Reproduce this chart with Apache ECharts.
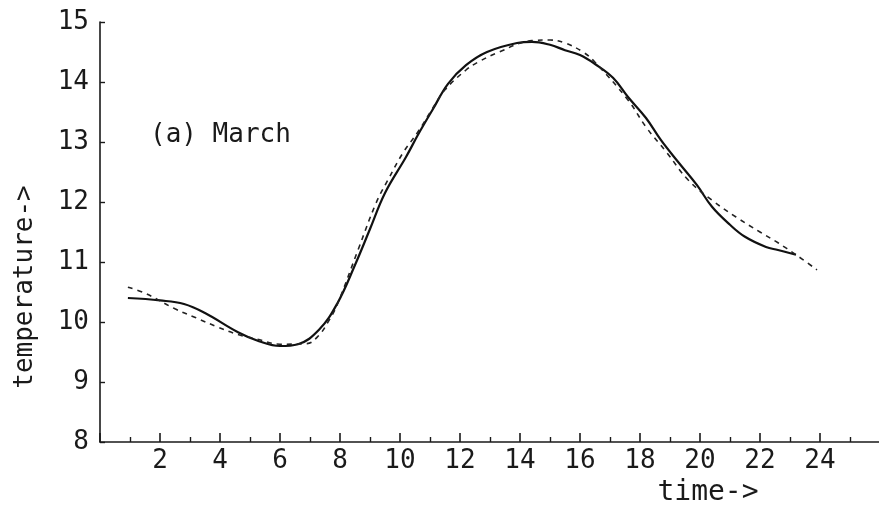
<!DOCTYPE html>
<html>

<head>
    <meta charset="utf-8">
    <title>March temperature</title>
    <style>
        html, body { margin: 0; padding: 0; background: #fff; }
    </style>
</head>

<body>
    <div id="main" style="width: 879px;height:506px;"></div>
    <script src="https://cdn.jsdelivr.net/npm/echarts@6/dist/echarts.min.js" charset="utf-8"></script>
    <script>
    // hourly temperature, March: measured curve (solid) and fitted curve (dashed)
    var solidPoints = [
        [0.93, 10.40], [2.0, 10.36], [2.8, 10.30], [3.5, 10.15], [4.6, 9.83],
        [5.3, 9.68], [6.0, 9.60], [6.6, 9.63], [7.3, 9.87], [7.9, 10.30],
        [8.5, 10.95], [9.0, 11.55], [9.5, 12.15], [10.2, 12.75],
        [10.6, 13.12], [11.1, 13.55], [11.6, 13.97], [12.2, 14.28], [12.9, 14.5],
        [13.9, 14.65], [14.4, 14.67], [15.0, 14.62], [15.5, 14.53], [16.0, 14.45],
        [16.5, 14.3], [17.1, 14.07], [17.6, 13.75], [18.2, 13.4], [18.7, 13.03],
        [19.3, 12.65], [19.9, 12.28], [20.4, 11.92], [21.0, 11.62], [21.5, 11.42],
        [22.2, 11.25], [22.6, 11.2], [23.2, 11.12]
    ];
    var dashedPoints = [
        [0.93, 10.58], [1.5, 10.48], [2.5, 10.22], [3.2, 10.07], [3.9, 9.92],
        [4.6, 9.79], [5.2, 9.72], [6.0, 9.63], [6.9, 9.64], [7.3, 9.78],
        [7.6, 10.0], [7.9, 10.28], [8.6, 11.2], [9.2, 11.98], [9.6, 12.37],
        [10.1, 12.82], [10.6, 13.17], [11.1, 13.57], [11.5, 13.87], [12.2, 14.2],
        [12.6, 14.33], [13.3, 14.5], [14.4, 14.69], [15.0, 14.7], [15.5, 14.65],
        [16.1, 14.5], [16.5, 14.33], [17.6, 13.7], [18.2, 13.25], [18.9, 12.82],
        [19.6, 12.37], [20.4, 12.03], [21.2, 11.75], [22.0, 11.5], [22.6, 11.32],
        [23.2, 11.12], [23.9, 10.87]
    ];
    var xTicks = { min: 0, max: 26, step: 2 };
    var yTicks = { min: 8, max: 15, step: 1 };

    var font = 'DejaVu Sans Mono';
    var ink = '#1a1a1a';

    var myChart = echarts.init(document.getElementById('main'));
    option = {
        backgroundColor: '#fff',
        animation: false,
        title: {
            text: '(a) March',
            left: 145,
            top: 117,
            textStyle: { fontFamily: font, fontSize: 26, fontWeight: 'normal', color: ink }
        },
        grid: { left: 100, right: -1, top: 22, bottom: 64, outerBoundsMode: 'none', containLabel: false },
        xAxis: {
            type: 'value',
            min: xTicks.min,
            max: xTicks.max,
            interval: xTicks.step,
            name: 'time->',
            nameLocation: 'middle',
            nameGap: 35,
            nameTextStyle: {
                fontFamily: font, fontSize: 28, color: ink,
                padding: [0, 0, 0, 436]
            },
            axisLine: { lineStyle: { color: ink, width: 1.6 } },
            axisTick: { inside: true, length: 9, lineStyle: { color: ink, width: 1.6 } },
            minorTick: { show: true, splitNumber: 2, length: 5, lineStyle: { color: ink, width: 1.4 } },
            axisLabel: {
                showMinLabel: false, showMaxLabel: false, margin: 6,
                fontFamily: font, fontSize: 26, color: ink
            },
            splitLine: { show: false }
        },
        yAxis: {
            type: 'value',
            min: yTicks.min,
            max: yTicks.max,
            interval: yTicks.step,
            name: 'temperature->',
            nameLocation: 'middle',
            nameGap: 62,
            nameTextStyle: { fontFamily: font, fontSize: 26, color: ink, padding: [0, 110, 0, 0] },
            axisLine: { show: true, lineStyle: { color: ink, width: 1.6 } },
            axisTick: { show: true, inside: true, length: 5, lineStyle: { color: ink, width: 1.4 } },
            axisLabel: { margin: 11, fontFamily: font, fontSize: 26, color: ink },
            splitLine: { show: false }
        },
        series: [{
            name: 'measured',
            type: 'line',
            data: solidPoints,
            smooth: 0.4,
            symbol: 'none',
            lineStyle: { color: '#111', width: 2.2 }
        }, {
            name: 'fitted',
            type: 'line',
            data: dashedPoints,
            smooth: 0.4,
            symbol: 'none',
            lineStyle: { color: '#222', width: 1.6, type: [5, 5] }
        }]
    };
    myChart.setOption(option);
    </script>
</body>

</html>
